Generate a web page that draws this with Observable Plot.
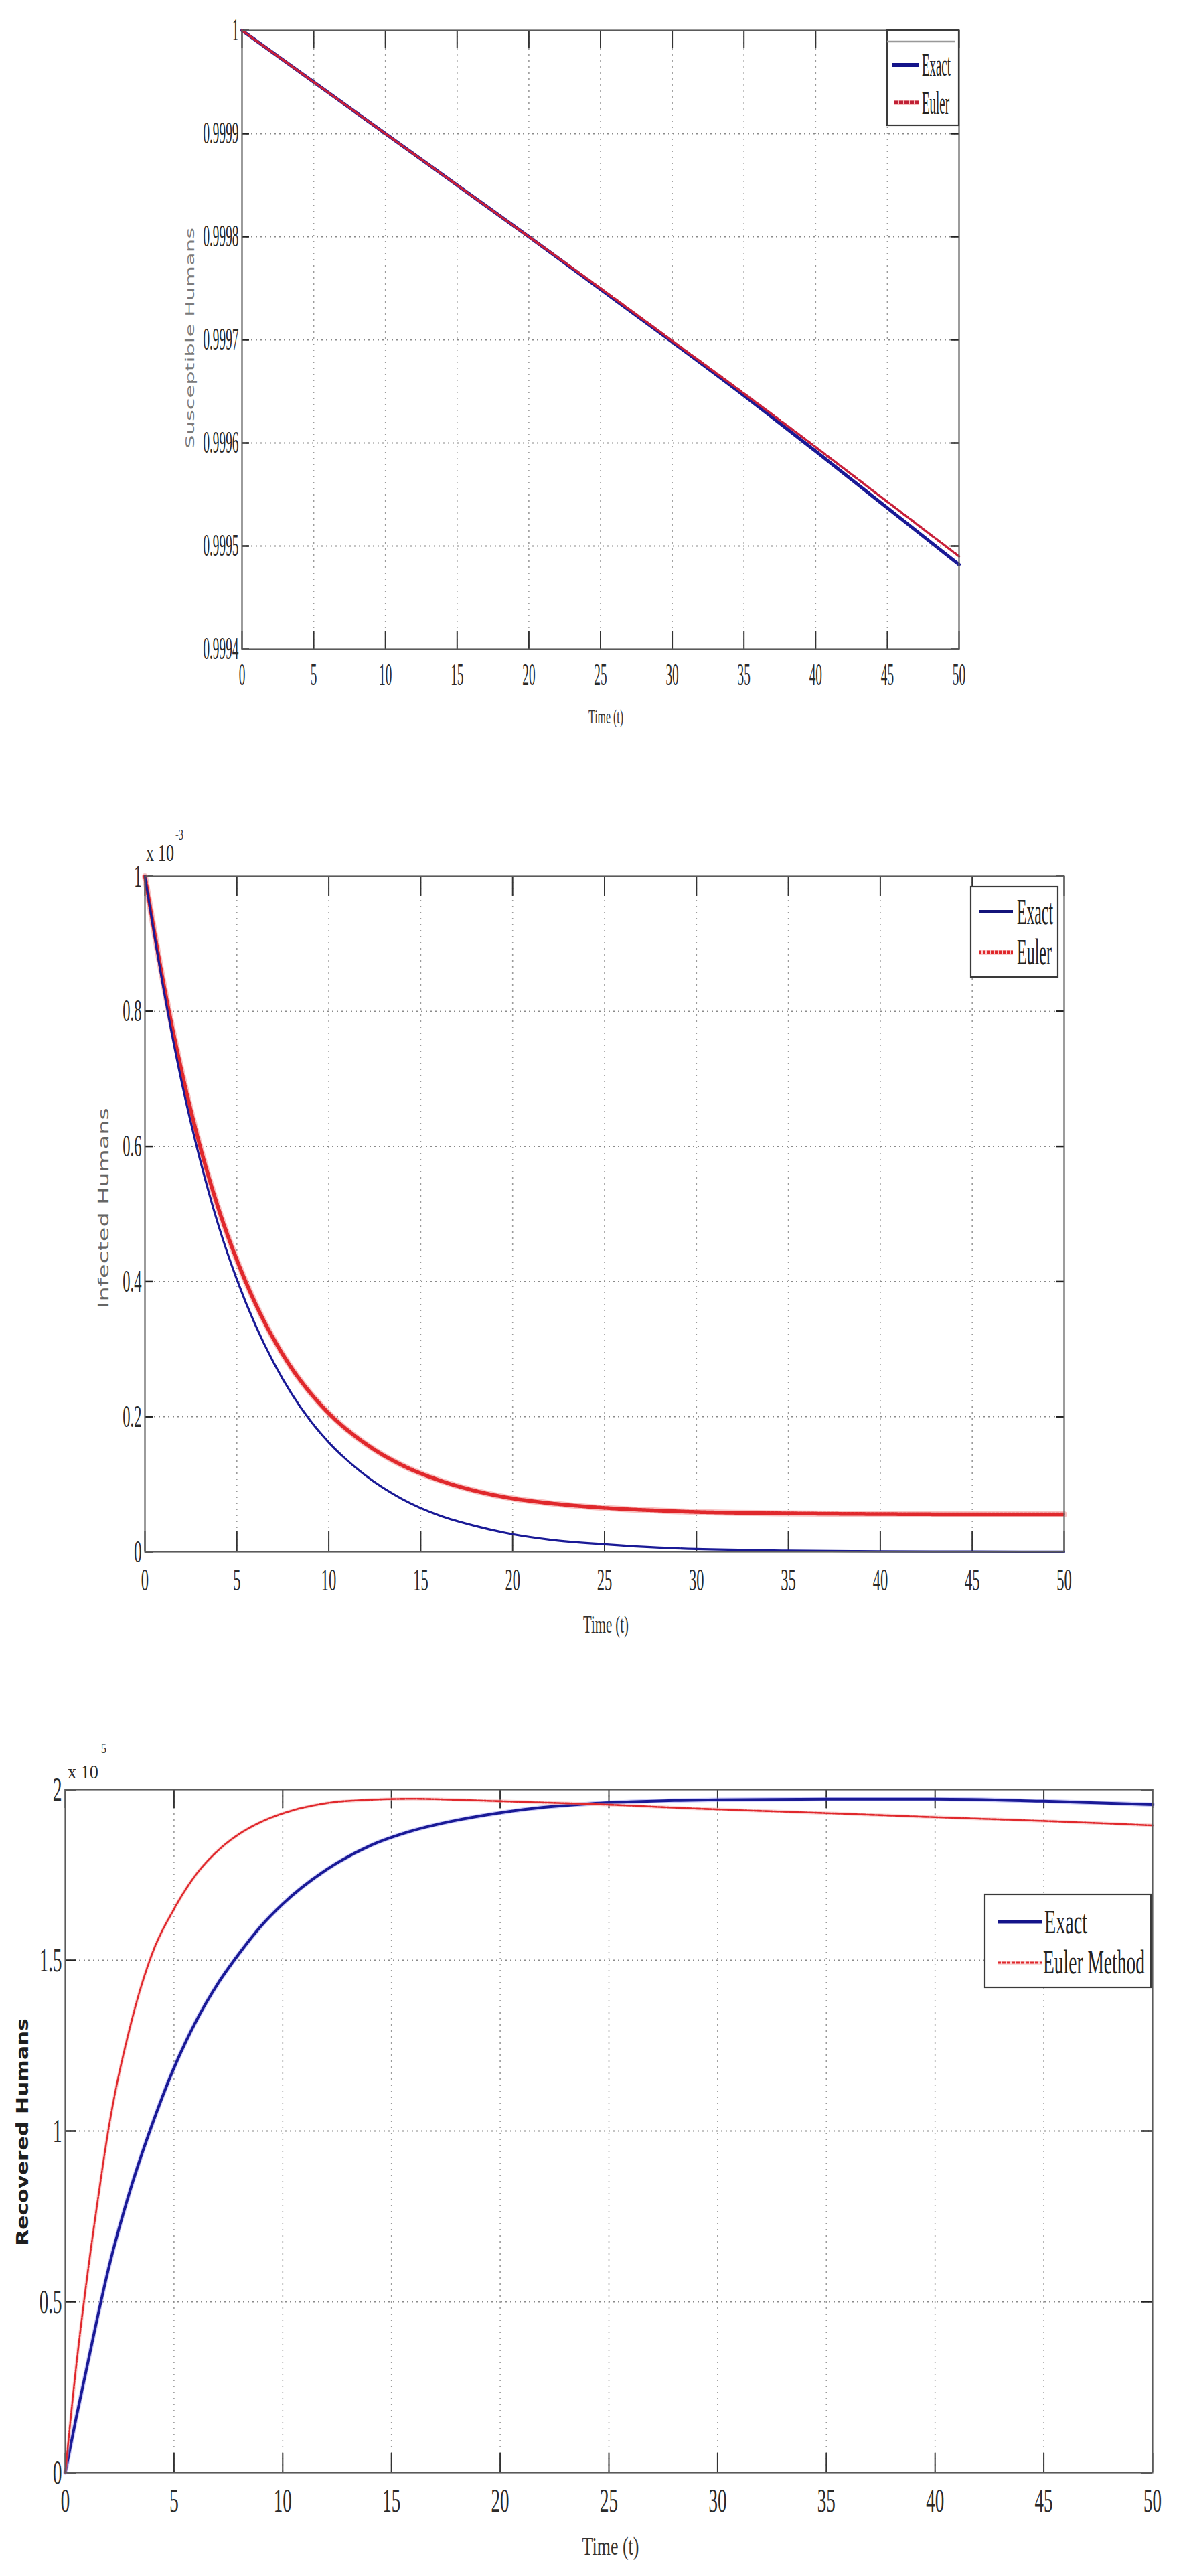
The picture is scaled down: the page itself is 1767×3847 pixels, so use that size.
<!DOCTYPE html>
<html>
<head>
<meta charset="utf-8">
<script src="https://cdn.jsdelivr.net/npm/d3@7"></script>
<script src="https://cdn.jsdelivr.net/npm/@observablehq/plot@0.6"></script>
<style>
html, body { margin: 0; padding: 0; background: #fff; }
#wrap { position: relative; width: 1767px; height: 3847px; overflow: hidden; background: #fff; }
#wrap svg { position: absolute; left: 0; }
</style>
</head>
<body>
<div id="wrap"></div>
<script>
// ---------- shared ----------
const timeTicks = [0, 5, 10, 15, 20, 25, 30, 35, 40, 45, 50];

// ---------- Panel 1: Susceptible Humans ----------
const susTime  = [0, 5, 10, 15, 20, 25, 30, 35, 40, 45, 50];
const susExact = [1, 0.99995, 0.99990, 0.99985, 0.99980, 0.999749, 0.999698, 0.999646, 0.999592, 0.999537, 0.999482];
const susEuler = [1, 0.99995, 0.99990, 0.99985, 0.99980, 0.999750, 0.999699, 0.999648, 0.999596, 0.999543, 0.999490];
const susTicks = [0.9994, 0.9995, 0.9996, 0.9997, 0.9998, 0.9999, 1];
const susTickLabels = ["0.9994", "0.9995", "0.9996", "0.9997", "0.9998", "0.9999", "1"];

// ---------- Panel 2: Infected Humans (x 10^-3) ----------
const infTime  = [0, 1, 2, 3, 4, 5, 6, 7, 8, 9, 10, 12, 14, 16, 18, 20, 22, 25, 28, 30, 35, 40, 45, 50];
const infExact = [1, 0.835, 0.695, 0.58, 0.483, 0.403, 0.336, 0.28, 0.233, 0.194, 0.162, 0.113, 0.078, 0.054, 0.038, 0.026, 0.018, 0.011, 0.006, 0.004, 0.0017, 0.0007, 0.0003, 0.0001];
const infEuler = [1, 0.843, 0.711, 0.600, 0.508, 0.432, 0.368, 0.315, 0.271, 0.235, 0.205, 0.160, 0.128, 0.106, 0.090, 0.079, 0.072, 0.065, 0.061, 0.059, 0.057, 0.056, 0.0555, 0.0555];
const infTicks = [0, 0.2, 0.4, 0.6, 0.8, 1];
const infTickLabels = ["0", "0.2", "0.4", "0.6", "0.8", "1"];

// ---------- Panel 3: Recovered Humans (x 10^5) ----------
const recTime  = [0, 0.5, 1, 1.5, 2, 3, 4, 5, 6, 7, 8, 9, 10, 12, 14, 16, 18, 20, 22, 24, 26, 28, 30, 35, 40, 45, 50];
const recExact = [0, 0.16, 0.31, 0.46, 0.60, 0.83, 1.02, 1.185, 1.32, 1.43, 1.52, 1.60, 1.665, 1.765, 1.835, 1.88, 1.91, 1.932, 1.948, 1.958, 1.964, 1.968, 1.97, 1.972, 1.972, 1.966, 1.956];
const recEuler = [0, 0.31, 0.57, 0.80, 1.01, 1.31, 1.52, 1.65, 1.75, 1.82, 1.87, 1.905, 1.93, 1.96, 1.97, 1.973, 1.97, 1.966, 1.962, 1.958, 1.953, 1.947, 1.942, 1.931, 1.919, 1.908, 1.895];
const recTicks = [0, 0.5, 1, 1.5, 2];
const recTickLabels = ["0", "0.5", "1", "1.5", "2"];

const BLUE = "#1a1a96";
const RED = "#e0282c";
const SERIF = '"Liberation Serif", "DejaVu Serif", serif';
const SANS = '"DejaVu Sans", "Liberation Sans", sans-serif';

function rows(t, v) { return t.map((x, i) => ({ t: x, v: v[i] })); }

function squeeze(svg, sx) {
  svg.querySelectorAll("text").forEach(t => {
    const tr = t.getAttribute("transform");
    if (tr) t.setAttribute("transform", tr + ` scale(${sx},1)`);
    else {
      const x = +t.getAttribute("x") || 0, y = +t.getAttribute("y") || 0;
      t.setAttribute("x", 0); t.setAttribute("y", 0);
      t.setAttribute("transform", `translate(${x},${y}) scale(${sx},1)`);
    }
  });
}

// text squeezed to a target length via a transform (svg must be in the document)
function addText(s, o) {
  const t = s.append("text")
    .attr("text-anchor", o.anchor || "start")
    .attr("font-family", o.family || SERIF)
    .attr("font-size", o.fs)
    .attr("font-weight", o.bold ? "bold" : "normal")
    .attr("fill", o.fill || "#222")
    .attr("x", 0).attr("y", 0)
    .text(o.text);
  const natural = t.node().getComputedTextLength() || o.len;
  const k = o.len / natural;
  t.attr("transform", `translate(${o.x},${o.y})${o.rotate ? ` rotate(${o.rotate})` : ""} scale(${k},1)`);
  return t;
}

function panel(cfg) {
  const plotW = cfg.width - cfg.ml - cfg.mr;
  const plotH = cfg.height - cfg.mt - cfg.mb;
  const svg = Plot.plot({
    width: cfg.width, height: cfg.height,
    marginLeft: cfg.ml, marginRight: cfg.mr, marginTop: cfg.mt, marginBottom: cfg.mb,
    style: { fontFamily: SERIF, fontSize: cfg.fs + "px", color: "#2a2a2a", background: "transparent", overflow: "visible" },
    x: { domain: [0, 50], ticks: timeTicks, tickSize: 0, tickPadding: cfg.xpad, label: null, tickFormat: d => String(d) },
    y: { domain: cfg.ydomain, ticks: cfg.yticks, tickSize: 0, tickPadding: 5, label: null,
         tickFormat: d => cfg.ylabels[cfg.yticks.indexOf(d)] },
    marks: [
      Plot.ruleX(timeTicks.filter(t => t > 0 && t < 50), { stroke: "#9a9a9a", strokeWidth: 1.6, strokeDasharray: "2,7" }),
      Plot.ruleY(cfg.yticks.filter(v => v > cfg.ydomain[0] && v < cfg.ydomain[1]), { stroke: "#8a8a8a", strokeWidth: 1.8, strokeDasharray: "2,5" }),
      // inward ticks (MATLAB style)
      Plot.ruleX(timeTicks, { insetTop: plotH - cfg.xtick, stroke: "#333", strokeWidth: 2 }),
      Plot.ruleX(timeTicks, { insetBottom: plotH - cfg.xtick, stroke: "#333", strokeWidth: 2 }),
      Plot.ruleY(cfg.yticks, { insetRight: plotW - cfg.ytick, stroke: "#222", strokeWidth: 2.5 }),
      Plot.ruleY(cfg.yticks, { insetLeft: plotW - cfg.ytick, stroke: "#222", strokeWidth: 2.5 }),
      ...cfg.lines,
      Plot.frame({ stroke: "#5a5a5a", strokeWidth: 2.2 })
    ]
  });
  squeeze(svg, cfg.sx);
  svg.style.top = cfg.top + "px";
  document.getElementById("wrap").appendChild(svg);
  const s = d3.select(svg);
  // y label
  addText(s, { anchor: "middle", family: SANS, fs: cfg.ylab.fs, bold: cfg.ylab.bold, fill: cfg.ylab.fill,
    len: cfg.ylab.len, text: cfg.ylab.text, x: cfg.ylab.x, y: cfg.ylab.y, rotate: -90 });
  // x label
  addText(s, { anchor: "middle", fs: cfg.xlab.fs, fill: "#333", len: cfg.xlab.len, text: "Time (t)",
    x: cfg.xlab.x, y: cfg.xlab.y });
  // exponent
  if (cfg.expo) {
    addText(s, { x: cfg.expo.x, y: cfg.expo.y, fs: cfg.expo.fs, fill: "#2a2a2a", len: cfg.expo.len, text: "x 10" });
    addText(s, { x: cfg.expo.sx, y: cfg.expo.sy, fs: cfg.expo.sfs, fill: "#2a2a2a", len: cfg.expo.slen, text: cfg.expo.sup });
  }
  // legend
  const L = cfg.legend;
  s.append("rect").attr("x", L.x).attr("y", L.y).attr("width", L.w).attr("height", L.h)
    .attr("fill", "#fff").attr("stroke", "#3a3a3a").attr("stroke-width", 2.2);
  if (L.topLine) s.append("line").attr("x1", L.x).attr("x2", L.x + L.w - 6).attr("y1", L.topLine).attr("y2", L.topLine)
    .attr("stroke", "#999").attr("stroke-width", 2.5);
  L.items.forEach(it => {
    if (it.under) s.append("line").attr("x1", it.x1).attr("x2", it.x2).attr("y1", it.y).attr("y2", it.y)
      .attr("stroke", it.under).attr("stroke-width", it.w + 3).attr("opacity", 0.5);
    s.append("line").attr("x1", it.x1).attr("x2", it.x2).attr("y1", it.y).attr("y2", it.y)
      .attr("stroke", it.color).attr("stroke-width", it.w).attr("stroke-dasharray", it.dash || null);
    addText(s, { x: it.tx, y: it.ty, fs: it.fs, fill: "#222", len: it.len, text: it.label });
  });
}

// Panel 1
panel({
  top: 0, width: 1767, height: 1150, ml: 361, mr: 335, mt: 45, mb: 181,
  fs: 46, sx: 0.42, xpad: 21, xtick: 27, ytick: 11,
  ydomain: [0.9994, 1], yticks: susTicks, ylabels: susTickLabels,
  lines: [
    Plot.line(rows(susTime, susExact), { x: "t", y: "v", stroke: BLUE, strokeWidth: 5, curve: "monotone-x" }),
    Plot.line(rows(susTime, susEuler), { x: "t", y: "v", stroke: "#c8203a", strokeWidth: 3.5, strokeDasharray: "9,3", curve: "monotone-x" })
  ],
  ylab: { text: "Susceptible Humans", x: 290, y: 505, fs: 18, len: 330, fill: "#7a7a7a" },
  xlab: { x: 905, y: 1080, fs: 30, len: 52 },
  legend: {
    x: 1325, y: 45, w: 107, h: 142, topLine: 62,
    items: [
      { x1: 1332, x2: 1373, y: 97, color: "#14148a", w: 6, label: "Exact", tx: 1377, ty: 113, fs: 48, len: 43 },
      { x1: 1335, x2: 1373, y: 153, color: "#c02035", w: 5, dash: "6,2", under: "#f08080", label: "Euler", tx: 1377, ty: 170, fs: 48, len: 41 }
    ]
  }
});

// Panel 2
panel({
  top: 1150, width: 1767, height: 1400, ml: 216, mr: 178, mt: 158, mb: 233,
  fs: 47, sx: 0.48, xpad: 24, xtick: 30, ytick: 12,
  ydomain: [0, 1], yticks: infTicks, ylabels: infTickLabels,
  lines: [
    Plot.line(rows(infTime, infEuler), { x: "t", y: "v", stroke: "#f29a9a", strokeWidth: 9, strokeOpacity: 0.6, curve: "monotone-x" }),
    Plot.line(rows(infTime, infEuler), { x: "t", y: "v", stroke: RED, strokeWidth: 5.5, strokeDasharray: "4,2", curve: "monotone-x" }),
    Plot.line(rows(infTime, infExact), { x: "t", y: "v", stroke: BLUE, strokeWidth: 3.2, curve: "monotone-x" })
  ],
  ylab: { text: "Infected Humans", x: 162, y: 654, fs: 21, len: 300, fill: "#666" },
  xlab: { x: 905, y: 1288, fs: 36, len: 68 },
  expo: { x: 218, y: 136, fs: 36, len: 42, sx: 262, sy: 104, sfs: 24, slen: 12, sup: "-3" },
  legend: {
    x: 1450, y: 174, w: 130, h: 135,
    items: [
      { x1: 1462, x2: 1513, y: 211, color: "#14147a", w: 4, label: "Exact", tx: 1519, ty: 230, fs: 54, len: 54 },
      { x1: 1462, x2: 1513, y: 272, color: RED, w: 5, dash: "4,2", under: "#f5a0a0", label: "Euler", tx: 1519, ty: 290, fs: 54, len: 52 }
    ]
  }
});

// Panel 3
panel({
  top: 2550, width: 1767, height: 1297, ml: 97, mr: 46, mt: 122, mb: 155,
  fs: 50, sx: 0.54, xpad: 23, xtick: 28, ytick: 17,
  ydomain: [0, 2], yticks: recTicks, ylabels: recTickLabels,
  lines: [
    Plot.line(rows(recTime, recExact), { x: "t", y: "v", stroke: "#8c8cf0", strokeWidth: 6.5, strokeOpacity: 0.45, curve: "monotone-x" }),
    Plot.line(rows(recTime, recExact), { x: "t", y: "v", stroke: BLUE, strokeWidth: 4, curve: "monotone-x" }),
    Plot.line(rows(recTime, recEuler), { x: "t", y: "v", stroke: "#f4aaaa", strokeWidth: 5, strokeOpacity: 0.5, curve: "monotone-x" }),
    Plot.line(rows(recTime, recEuler), { x: "t", y: "v", stroke: RED, strokeWidth: 2.6, strokeDasharray: "7,2,2,2", curve: "monotone-x" })
  ],
  ylab: { text: "Recovered Humans", x: 42, y: 634, fs: 25, len: 340, fill: "#1e1e1e", bold: true },
  xlab: { x: 912, y: 1265, fs: 38, len: 85 },
  expo: { x: 101, y: 106, fs: 30, len: 46, sx: 151, sy: 68, sfs: 22, slen: 8, sup: "5" },
  legend: {
    x: 1471, y: 279, w: 248, h: 139,
    items: [
      { x1: 1490, x2: 1556, y: 320, color: "#14148a", w: 5, label: "Exact", tx: 1560, ty: 337, fs: 50, len: 64 },
      { x1: 1490, x2: 1556, y: 381, color: RED, w: 3, dash: "5,2", under: "#f5b0b0", label: "Euler Method", tx: 1558, ty: 397, fs: 50, len: 152 }
    ]
  }
});
</script>
</body>
</html>
